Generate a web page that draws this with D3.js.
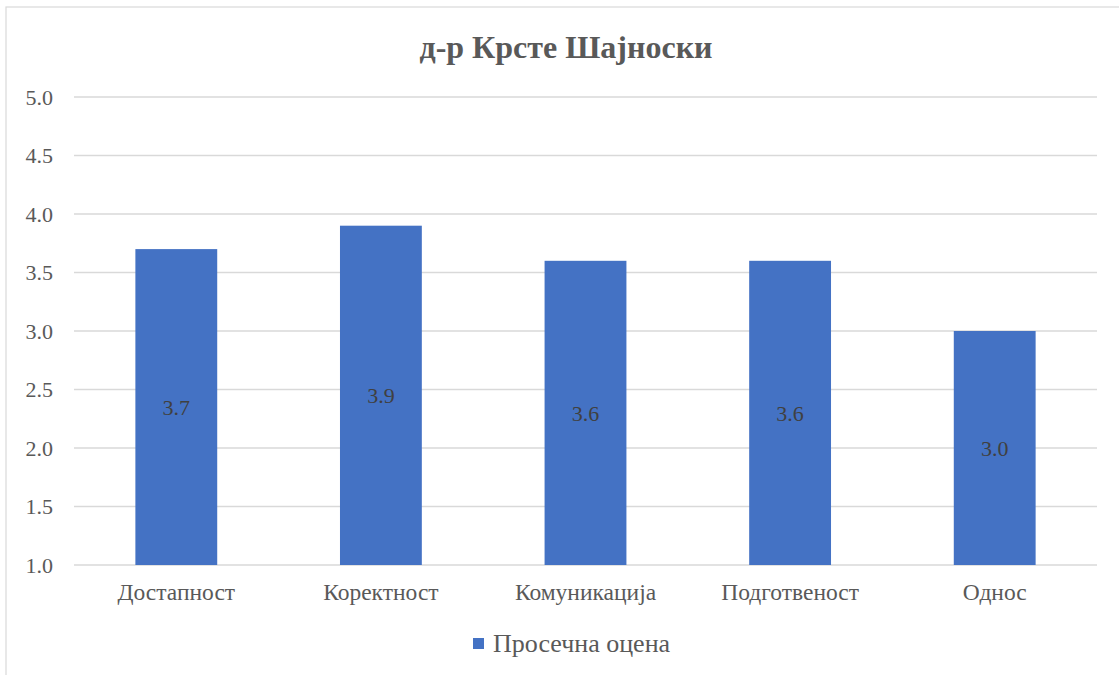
<!DOCTYPE html>
<html><head><meta charset="utf-8">
<script src="https://cdn.jsdelivr.net/npm/d3@7/dist/d3.min.js"></script>
<style>body{margin:0;background:#fff;} svg text{font-family:"Times New Roman","Liberation Serif","DejaVu Serif",serif !important;}</style>
</head><body>
<svg id="c" width="1119" height="675"></svg>
<script>
const categories = ["Достапност","Коректност","Комуникација","Подготвеност","Однос"];
const values = [3.7, 3.9, 3.6, 3.6, 3.0];
const yTicks = [1.0,1.5,2.0,2.5,3.0,3.5,4.0,4.5,5.0];
const title = "д-р Крсте Шајноски";
const seriesName = "Просечна оцена";

const svg = d3.select("#c");
svg.append("rect").attr("x",6).attr("y",7).attr("width",1125).attr("height",680)
  .attr("fill","#fff").attr("stroke","#d9d9d9").attr("stroke-width",1.2);

const x = d3.scaleBand().domain(categories).range([74,1097]).paddingInner(0.6).paddingOuter(0.3);
const y = d3.scaleLinear().domain([1,5]).range([565,97]);

const grid = svg.append("g");
grid.selectAll("line").data(yTicks).join("line")
  .attr("x1",74).attr("x2",1097).attr("y1",d=>y(d)).attr("y2",d=>y(d))
  .attr("stroke","#d9d9d9").attr("stroke-width",1.5);

const yAxis = svg.append("g").attr("transform","translate(74,0)")
  .call(d3.axisLeft(y).tickValues(yTicks).tickFormat(d3.format(".1f")).tickSize(0).tickPadding(21));
yAxis.select(".domain").remove();
yAxis.selectAll("text").attr("font-size",22).attr("fill","#595959");

svg.append("g").selectAll("rect").data(values).join("rect")
  .attr("x",(d,i)=>x(categories[i])).attr("width",x.bandwidth())
  .attr("y",d=>y(d)).attr("height",d=>y(1)-y(d)).attr("fill","#4472c4");

svg.append("g").selectAll("text").data(values).join("text")
  .attr("x",(d,i)=>x(categories[i])+x.bandwidth()/2)
  .attr("y",d=>(y(d)+y(1))/2).attr("dy","0.35em").attr("text-anchor","middle")
  .attr("font-size",22).attr("fill","#404040").text(d=>d.toFixed(1));

const xAxis = svg.append("g").attr("transform","translate(0,565)")
  .call(d3.axisBottom(x).tickSize(0).tickPadding(18));
xAxis.select(".domain").remove();
xAxis.selectAll("text").attr("font-size",23.5).attr("fill","#595959");

svg.append("text").attr("x",566).attr("y",47).attr("dy","0.35em").attr("text-anchor","middle")
  .attr("font-size",32).attr("font-weight","bold").attr("fill","#595959").text(title);

svg.append("rect").attr("x",473).attr("y",638).attr("width",11).attr("height",11).attr("fill","#4472c4");
svg.append("text").attr("x",493).attr("y",643).attr("dy","0.35em").attr("font-size",26)
  .attr("fill","#595959").text(seriesName);
</script>
</body></html>
